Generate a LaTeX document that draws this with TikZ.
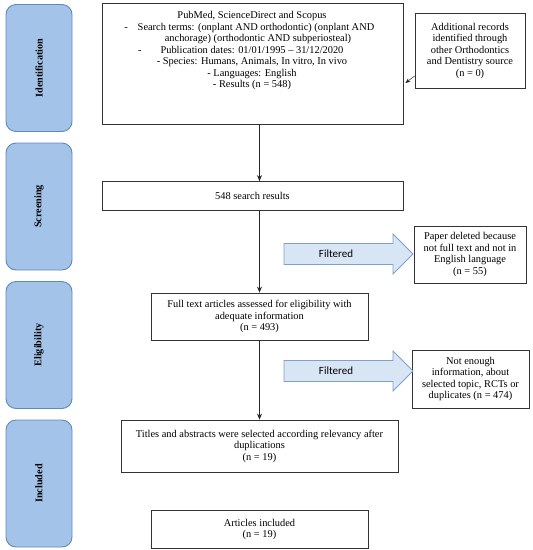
\documentclass[tikz,border=0pt]{standalone}
\usepackage{fontspec}
\usetikzlibrary{arrows.meta}
\setmainfont{Liberation Serif}
\newfontfamily\carlito{Carlito}
\definecolor{phasefill}{HTML}{A3C4E8}
\definecolor{phasedraw}{HTML}{5F89BA}
\definecolor{arrfill}{HTML}{D7E5F4}
\definecolor{arrdraw}{HTML}{7FA0CB}
\definecolor{boxline}{HTML}{333333}
\begin{document}
\begin{tikzpicture}[x=1pt,y=-1pt,
  box/.style={draw=boxline, line width=0.8pt, inner sep=0pt, align=center,
    font=\fontsize{10.4}{11.5}\selectfont},
  phase/.style={draw=phasedraw, fill=phasefill, line width=0.9pt, rounded corners=10pt,
    minimum width=66pt, minimum height=127pt, inner sep=0pt},
  phaselabel/.style={rotate=90, font=\fontsize{10.2}{12}\selectfont\bfseries},
  arr/.style={draw=black!85, line width=0.7pt, -{Stealth[length=6pt,width=5pt]}},
  fat/.style={draw=arrdraw, fill=arrfill, line width=0.8pt},
  fatlabel/.style={font=\carlito\fontsize{11}{13}\selectfont, inner sep=0pt}
]
\useasboundingbox (0,0) rectangle (533,550);

% phase boxes
\node[phase] (pid) at (39,68) {};
\node[phaselabel] (pidl) at (pid.center) {Identification};
\node[phase] (psc) at (39,206.5) {};
\node[phaselabel] (pscl) at (psc.center) {Screening};
\node[phase] (pel) at (39,345) {};
\node[phaselabel] (pell) at (pel.center) {Eligibility};
\node[phase] (pin) at (39,483.5) {};
\node[phaselabel] (pinl) at (pin.center) {Included};

% main column
\node[box, minimum width=301pt, minimum height=121pt] (main) at (252.5,63.5) {};
\node[box, draw=none, anchor=north] (maintext) at (252,11) {%
PubMed, ScienceDirect and Scopus\\
\hspace{8pt}\llap{-\hspace{10pt}}Search terms: (onplant AND orthodontic) (onplant AND\\
\hspace{12pt}anchorage) (orthodontic AND subperiosteal)\\
\llap{-\hspace{19pt}}Publication dates: 01/01/1995 -- 31/12/2020\\
- Species: Humans, Animals, In vitro, In vivo\\
- Languages: English\\
- Results (n = 548)};

\node[box, minimum width=301pt, minimum height=29pt] (s548) at (252.5,196) {548 search results};

\node[box, minimum width=217pt, minimum height=47pt] (full) at (259.5,316.5) {Full text articles assessed for eligibility with\\adequate information\\(n = 493)};

\node[box, minimum width=277pt, minimum height=52pt] (titles) at (259.5,446) {Titles and abstracts were selected according relevancy after\\duplications\\(n = 19)};

\node[box, minimum width=217pt, minimum height=38pt] (articles) at (259.5,529.5) {Articles included\\(n = 19)};

% right column
\node[box, minimum width=110pt, minimum height=75pt] (add) at (470,50.5) {Additional records\\identified through\\other Orthodontics\\and Dentistry source\\(n = 0)};
\node[box, minimum width=112pt, minimum height=57pt] (paper) at (470,254.5) {Paper deleted because\\not full text and not in\\English language\\(n = 55)};
\node[box, minimum width=117pt, minimum height=58pt] (enough) at (470.5,379) {Not enough\\information, about\\selected topic, RCTs or\\duplicates (n = 474)};

% connectors
\draw[arr] (full.north |- main.south) -- (full.north |- s548.north);
\draw[arr] (full.north |- s548.south) -- (full.north);
\draw[arr] (full.south) -- (titles.north);
\draw[arr, line width=0.5pt, -{Stealth[length=5pt,width=4pt]}] ([yshift=-25.5pt]add.west) -- ([xshift=2pt,yshift=-19.5pt]main.east);

% filtered arrows
\draw[fat] (284,243.5) -- (393,243.5) -- (393,234) -- (413,254) -- (393,274) -- (393,264.5) -- (284,264.5) -- cycle;
\node[fatlabel] (f1) at (336,254) {Filtered};
\draw[fat] (284,360.5) -- (393,360.5) -- (393,351) -- (413,371) -- (393,391) -- (393,381.5) -- (284,381.5) -- cycle;
\node[fatlabel] (f2) at (336,371) {Filtered};
\end{tikzpicture}
\end{document}
